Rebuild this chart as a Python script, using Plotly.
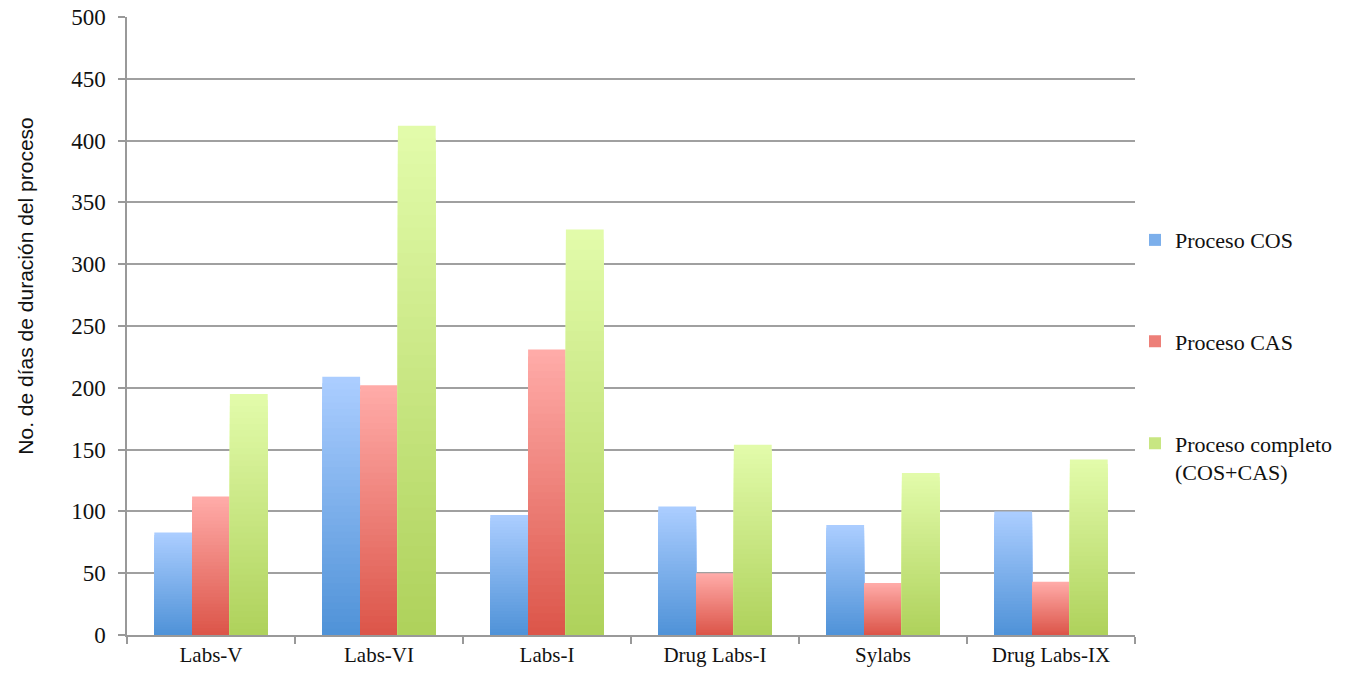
import plotly.graph_objects as go

categories = ["Labs-V", "Labs-VI", "Labs-I", "Drug Labs-I", "Sylabs", "Drug Labs-IX"]
cos_values = [83, 209, 97, 104, 89, 100]
cas_values = [112, 202, 231, 50, 42, 43]
completo_values = [195, 412, 328, 154, 131, 142]
series_names = ["Proceso COS", "Proceso CAS", "Proceso completo<br>(COS+CAS)"]
y_ticks = [0, 50, 100, 150, 200, 250, 300, 350, 400, 450, 500]
y_title = "No. de días de duración del proceso"

# gradient styling: (top colour, bottom colour)
grad = [((171, 205, 255), (80, 147, 216)),
        ((255, 171, 168), (220, 86, 74)),
        ((226, 251, 170), (175, 210, 92))]
STEPS = 40
BW = 0.225
offsets = [-1.5 * BW, -0.5 * BW, 0.5 * BW]
legends = ["legend", "legend2", "legend3"]

fig = go.Figure()
all_vals = [cos_values, cas_values, completo_values]
for s, vals in enumerate(all_vals):
    top, bot = grad[s]
    for k in range(STEPS):
        t = k / (STEPS - 1)
        c = tuple(round(top[i] + (bot[i] - top[i]) * t) for i in range(3))
        frac = (STEPS - k) / STEPS
        fig.add_trace(go.Bar(
            x=categories,
            y=[v * frac for v in vals],
            width=BW, offset=offsets[s],
            marker=dict(color="rgb(%d,%d,%d)" % c, line=dict(width=0)),
            name=series_names[s],
            showlegend=(k == STEPS // 2),
            legend=legends[s],
            hoverinfo="skip" if k else "x+name",
        ))

legend_common = dict(font=dict(family="Liberation Serif", size=22, color="#111"),
                     bgcolor="rgba(0,0,0,0)", itemwidth=30, valign="top",
                     xanchor="left", x=1.0)
fig.update_layout(
    barmode="overlay",
    width=1351, height=674,
    margin=dict(l=127, r=216, t=17, b=39),
    paper_bgcolor="white", plot_bgcolor="white",
    legend=dict(**legend_common, y=0.673, yanchor="top"),
    legend2=dict(**legend_common, y=0.509, yanchor="top"),
    legend3=dict(**legend_common, y=0.344, yanchor="top"),
    xaxis=dict(
        type="category", categoryorder="array", categoryarray=categories,
        tickson="boundaries", ticks="outside", ticklen=7, tickcolor="#999",
        tickwidth=1.5, automargin=False,
        showline=True, linecolor="#999", linewidth=1.5,
        tickfont=dict(family="Liberation Serif", size=21, color="#111"),
        showgrid=False, range=[-0.5, 5.5],
    ),
    yaxis=dict(
        range=[0, 500], tickvals=y_ticks, ticks="outside", ticklen=7,
        tickcolor="#999", tickwidth=1.5, automargin=False,
        ticklabelstandoff=8,
        showline=True, linecolor="#999", linewidth=1.5,
        showgrid=True, gridcolor="#a0a0a0", gridwidth=1.5,
        zeroline=False,
        tickfont=dict(family="Liberation Serif", size=23, color="#111"),
    ),
    annotations=[dict(
        text=y_title, textangle=-90, showarrow=False,
        xref="paper", yref="paper", x=-0.101, y=0.564,
        xanchor="center", yanchor="middle",
        font=dict(family="Liberation Sans", size=21, color="#111"),
    )],
)

fig.write_html("out.html")
